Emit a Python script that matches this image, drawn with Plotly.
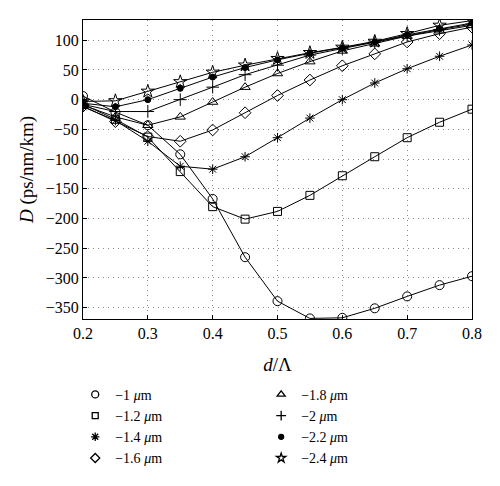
import plotly.graph_objects as go

# d/Lambda values
x = [0.2, 0.25, 0.3, 0.35, 0.4, 0.45, 0.5, 0.55, 0.6, 0.65, 0.7, 0.75, 0.8]

d_10 = [6, -21, -43, -92, -167, -265, -339, -368, -367, -351, -331, -312, -297]
d_12 = [-8, -33, -63, -121, -180, -201, -188, -161, -128, -96, -64, -38, -16]
d_14 = [-12, -35, -70, -112, -117, -96, -64, -31, 0, 28, 52, 73, 92]
d_16 = [-11, -37, -62, -70, -51, -22, 7, 33, 57, 77, 97, 111, 122]
d_18 = [-9, -29, -43, -29, -4, 21, 44, 64, 82, 94, 107, 116, 125]
d_20 = [-8, -20, -20, 0, 21, 42, 58, 75, 86, 97, 108, 118, 127]
d_22 = [-6, -12, 0, 19, 38, 54, 67, 78, 87, 97, 109, 119, 129]
d_24 = [-3, -2, 14, 30, 46, 58, 69, 79, 88, 98, 111, 125, 133]

names = ['−1 <i>μ</i>m', '−1.2 <i>μ</i>m', '−1.4 <i>μ</i>m', '−1.6 <i>μ</i>m',
         '−1.8 <i>μ</i>m', '−2 <i>μ</i>m', '−2.2 <i>μ</i>m', '−2.4 <i>μ</i>m']
series = [d_10, d_12, d_14, d_16, d_18, d_20, d_22, d_24]
symbols = ['circle-open', 'square-open', 'asterisk-open', 'diamond-open',
           'triangle-up-open', 'cross-thin-open', 'circle', 'star-open']
sizes = [9, 8, 8, 9, 9, 9, 6, 10]
leg_sizes = [7, 6, 7, 7, 7, 7, 5, 7]

fig = go.Figure()
for i, (nm, y) in enumerate(zip(names, series)):
    fig.add_trace(go.Scatter(
        x=x, y=y, name=nm, mode='lines+markers', showlegend=False,
        legendgroup=str(i),
        line=dict(color='black', width=1),
        marker=dict(symbol=symbols[i], size=sizes[i], color='black',
                    line=dict(color='black', width=1))))
    # marker-only entry for the legend
    fig.add_trace(go.Scatter(
        x=[None], y=[None], name=nm, mode='markers', legendgroup=str(i),
        marker=dict(symbol=symbols[i], size=leg_sizes[i], color='black',
                    line=dict(color='black', width=1.3)),
        legend='legend' if i < 4 else 'legend2'))

# page body has an 8px margin, so the figure is a bit smaller than the window
font = 'Liberation Serif'
fig.update_layout(
    width=492, height=478,
    margin=dict(l=75, r=28, t=12, b=160),
    plot_bgcolor='white', paper_bgcolor='white',
    font=dict(family=font, size=16, color='black'),
    legend=dict(x=-0.02, y=-0.2, xanchor='left', yanchor='top',
                font=dict(size=14), tracegroupgap=0, itemwidth=30),
    legend2=dict(x=0.458, y=-0.2, xanchor='left', yanchor='top',
                 font=dict(size=14), tracegroupgap=0, itemwidth=30),
)
fig.update_xaxes(
    range=[0.2, 0.8], tickvals=[0.2, 0.3, 0.4, 0.5, 0.6, 0.7, 0.8],
    ticktext=['0.2', '0.3', '0.4', '0.5', '0.6', '0.7', '0.8'],
    showline=True, linecolor='black', linewidth=1, mirror=True,
    ticks='inside', ticklen=4, tickcolor='black',
    showgrid=True, gridcolor='#888', griddash='1px,4px', gridwidth=1,
    zeroline=False, title=dict(text='<i>d</i>/Λ', standoff=16),
)
fig.update_yaxes(
    range=[-369, 134], tickvals=[-350, -300, -250, -200, -150, -100, -50, 0, 50, 100],
    ticktext=['−350', '−300', '−250', '−200', '−150', '−100', '−50', '0', '50', '100'],
    showline=True, linecolor='black', linewidth=1, mirror=True,
    ticks='inside', ticklen=4, tickcolor='black',
    showgrid=True, gridcolor='#888', griddash='1px,4px', gridwidth=1,
    zeroline=False, title=dict(text='<i>D</i> (ps/nm/km)', standoff=7),
)

fig.write_html('out.html')
